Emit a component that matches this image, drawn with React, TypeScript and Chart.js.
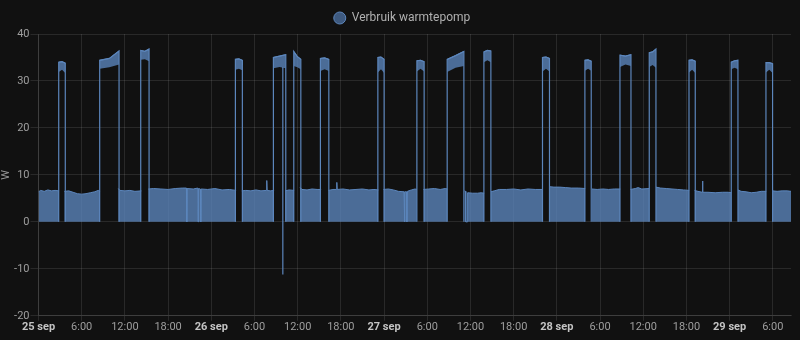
import { useEffect, useRef } from "react";
import { Chart, registerables } from "chart.js";

Chart.register(...registerables);

// ---- data (hours since 25 sep 00:00, watts) ----
const SERIES_LABEL = "Verbruik warmtepomp";
const Y_TITLE = "W";
const DAY_LABELS = ["25 sep", "26 sep", "27 sep", "28 sep", "29 sep"];
const X_MAX_HOURS = 104.53;
const Y_MIN = -20;
const Y_MAX = 40;
const Y_STEP = 10;
const X_STEP = 6;

// base load segments; null = no data (gap)
const lowHours: number[] = [
  0, 0.3, 0.8, 1.3, 1.8, 2.3, 2.85, 3.2,
  3.59, 4.2, 4.8, 5.4, 6.0, 6.6, 7.2, 7.8, 8.3, 8.55, 9.8,
  11.09, 11.3, 12, 12.7, 13.4, 14.29, 14.8,
  15.26, 16, 17, 18, 19, 20, 20.55, 20.6, 20.65, 21.5, 22.12, 22.17, 22.22, 22.49, 22.54, 22.59, 23.5, 24.5, 25.5, 26.5, 27.45, 27.8,
  28.24, 28.8, 29.5, 30.2, 30.9, 31.66, 31.71, 31.76, 32.2, 32.73, 33.5,
  34.26, 34.8, 35.51, 35.9,
  36.34, 36.6, 37.3, 38, 38.7, 39.26, 39.8,
  40.27, 40.9, 41.39, 41.44, 41.49, 42.3, 43.2, 44.1, 45.0, 45.9, 46.6, 47.22, 47.6,
  47.92, 48.6, 49.3, 50.0, 50.78, 50.83, 50.9, 51.12, 51.17, 51.24, 51.8, 52.3, 52.56, 53.0,
  53.47, 54.2, 55, 55.8, 56.5, 56.81, 58,
  59.17, 59.33, 59.36, 59.58, 59.61, 60.3, 61, 61.5, 61.91, 62.4,
  62.84, 63.3, 64, 65, 66, 67, 68, 69, 70.07, 70.5,
  70.94, 71.6, 72.4, 73.2, 74, 75, 75.94, 76.4,
  76.88, 77.6, 78.4, 79.2, 80, 80.82, 81.5,
  82.24, 82.9, 83.3, 83.8, 84.84, 85.3,
  85.77, 86.4, 87.2, 88, 88.8, 89.6, 90.39, 90.8,
  91.13, 91.6, 92.19, 92.24, 92.29, 93, 94, 95, 95.8, 96.27, 96.7,
  97.16, 97.6, 98.3, 99, 99.7, 100.4, 101.09, 101.5,
  101.97, 102.6, 103.3, 104.0, 104.53,
];
const lowWatts: (number | null)[] = [
  6.4, 6.7, 6.5, 6.8, 6.6, 6.7, 6.6, null,
  6.5, 6.6, 6.3, 6.0, 5.9, 6.0, 6.2, 6.4, 6.7, 6.5, null,
  7.1, 6.7, 6.6, 6.7, 6.5, 6.6, null,
  7.0, 7.1, 7.0, 6.9, 7.1, 7.2, 7.2, 0, 7.1, 7.0, 7.2, 0, 7.1, 7.0, 0, 7.0, 6.9, 7.1, 6.8, 6.9, 6.7, null,
  6.6, 6.7, 6.6, 6.8, 6.6, 6.7, 8.8, 6.7, 6.6, 6.7, null,
  6.6, 6.8, 6.7, null,
  7.3, 6.9, 6.8, 7.0, 6.9, 6.9, null,
  6.7, 6.9, 6.9, 8.4, 6.9, 7.0, 6.8, 6.9, 7.0, 6.8, 6.9, 6.8, null,
  6.9, 7.0, 6.8, 6.5, 6.4, 0, 6.4, 6.4, 0, 6.5, 6.8, 7.0, 6.9, null,
  6.9, 7.0, 7.1, 6.9, 7.1, 7.0, null,
  6.6, 6.5, 0, 0, 6.2, 6.1, 6.1, 6.2, 6.1, null,
  6.4, 6.6, 6.9, 6.9, 7.0, 6.8, 7.0, 6.9, 6.9, null,
  7.5, 7.4, 7.4, 7.3, 7.2, 7.2, 7.1, null,
  7.0, 6.9, 7.0, 6.9, 7.0, 7.0, null,
  6.9, 7.1, 7.3, 7.0, 7.1, null,
  7.4, 7.2, 7.1, 7.0, 6.9, 6.8, 6.7, null,
  6.7, 6.5, 6.3, 8.7, 6.3, 6.3, 6.2, 6.3, 6.3, 6.2, null,
  6.8, 6.5, 6.4, 6.2, 6.3, 6.5, 6.5, null,
  6.6, 6.5, 6.6, 6.6, 6.5,
];

// heat pump running periods
const spikeStart = [2.81, 8.5, 14.2, 27.35, 32.63, 35.46, 39.16, 47.14, 52.56, 56.77, 61.87, 70.01, 75.9, 80.77, 84.84, 90.36, 96.23, 101.05];
const spikeEnd = [3.72, 11.19, 15.36, 28.32, 34.35, 36.44, 40.33, 48.01, 53.57, 59.09, 62.84, 70.98, 76.78, 82.3, 85.77, 91.23, 97.16, 101.97];
const capTopStart = [34.0, 34.4, 36.5, 34.6, 35.0, 36.3, 34.8, 35.0, 34.3, 34.6, 36.2, 35.0, 34.4, 35.5, 36.0, 34.4, 34.0, 33.9];
const capTopMid = [34.1, 34.8, 36.3, 34.7, 35.3, 35.2, 34.9, 35.1, 34.4, 35.4, 36.5, 35.1, 34.5, 35.3, 36.2, 34.5, 34.3, 33.9];
const capTopEnd = [33.8, 36.4, 36.8, 34.4, 35.6, 34.6, 34.6, 34.6, 34.1, 36.3, 36.4, 34.8, 34.2, 35.6, 36.8, 34.2, 34.4, 33.7];
const capBottomStart = [31.9, 32.6, 34.5, 32.4, 32.7, 33.2, 32.1, 31.8, 32.0, 31.9, 34.0, 32.0, 32.2, 33.0, 33.0, 31.8, 32.5, 31.8];
const capBottomMid = [32.4, 32.9, 34.6, 32.6, 33.0, 32.9, 32.5, 32.5, 32.6, 32.8, 34.4, 32.6, 32.6, 33.5, 33.4, 32.4, 32.8, 32.4];
const capBottomEnd = [31.7, 33.5, 34.2, 32.3, 32.7, 32.5, 32.1, 31.7, 32.0, 33.2, 34.0, 32.0, 32.2, 33.2, 32.8, 31.7, 32.5, 31.7];

// single negative reading
const dropHour = 33.94;
const dropFrom = 33;
const dropWatts = -11.2;

// ---- styling ----
const BG = "#111111";
const FILL = "rgba(92,135,190,0.78)";
const LINE = "#5c86bc";
const GRID = "rgba(255,255,255,0.1)";
const FONT = "Roboto, 'Noto Sans', sans-serif";

type P = { x: number; y: number | null };

function buildData() {
  const low: P[] = lowHours.map((h, i) => ({ x: h, y: lowWatts[i] }));
  const outline: P[] = [];
  const bottom: P[] = [];
  const top: P[] = [];
  spikeStart.forEach((s, i) => {
    const e = spikeEnd[i];
    const m = (s + e) / 2;
    outline.push({ x: s, y: 0 }, { x: s, y: capTopStart[i] }, { x: m, y: capTopMid[i] }, { x: e, y: capTopEnd[i] }, { x: e, y: 0 }, { x: e + 0.05, y: null });
    bottom.push({ x: s, y: capBottomStart[i] }, { x: m, y: capBottomMid[i] }, { x: e, y: capBottomEnd[i] }, { x: e + 0.05, y: null });
    top.push({ x: s, y: capTopStart[i] }, { x: m, y: capTopMid[i] }, { x: e, y: capTopEnd[i] }, { x: e + 0.05, y: null });
  });
  const drop: P[] = [
    { x: dropHour, y: dropFrom },
    { x: dropHour + 0.001, y: dropWatts },
  ];
  return { low, outline, bottom, top, drop };
}

function tickLabel(v: number): string {
  if (v % 24 === 0) return DAY_LABELS[v / 24] ?? "";
  return `${v % 24}:00`;
}

export default function App() {
  const ref = useRef<HTMLCanvasElement | null>(null);
  useEffect(() => {
    document.body.style.margin = "0";
    document.body.style.background = BG;
    const { low, outline, bottom, top, drop } = buildData();
    const common = { pointRadius: 0, pointHoverRadius: 0, tension: 0, spanGaps: false };
    const chart = new Chart(ref.current as HTMLCanvasElement, {
      type: "line",
      data: {
        datasets: [
          { ...common, label: SERIES_LABEL, data: low as any, fill: "origin", backgroundColor: FILL, borderColor: LINE, borderWidth: 1 },
          { ...common, label: "_outline", data: outline as any, fill: false, borderColor: LINE, borderWidth: 1.2 },
          { ...common, label: "_capBottom", data: bottom as any, fill: false, borderColor: "rgba(0,0,0,0)", borderWidth: 0 },
          { ...common, label: "_capTop", data: top as any, fill: "-1", backgroundColor: FILL, borderColor: LINE, borderWidth: 1 },
          { ...common, label: "_drop", data: drop as any, fill: false, borderColor: LINE, borderWidth: 1.2 },
        ],
      },
      options: {
        animation: false,
        responsive: true,
        maintainAspectRatio: false,
        layout: { padding: { left: 13, right: 9, top: 2, bottom: 6 } },
        plugins: {
          tooltip: { enabled: false },
          legend: {
            position: "top",
            labels: {
              color: "#b0b0b0",
              font: { family: FONT, size: 12 },
              usePointStyle: true,
              boxWidth: 12,
              boxHeight: 8.5,
              padding: 10,
              generateLabels: () => [
                {
                  text: SERIES_LABEL,
                  fillStyle: "#3e5a80",
                  strokeStyle: "#5d86bb",
                  fontColor: "#b0b0b0",
                  lineWidth: 1,
                  pointStyle: "circle",
                  textAlign: "left",
                  hidden: false,
                  datasetIndex: 0,
                } as any,
              ],
            },
          },
        },
        scales: {
          x: {
            type: "linear",
            min: 0,
            max: X_MAX_HOURS,
            grid: { color: GRID, tickLength: 5 },
            border: { color: GRID },
            ticks: {
              stepSize: X_STEP,
              autoSkip: false,
              maxRotation: 0,
              includeBounds: false,
              padding: 0,
              callback: (v: any) => tickLabel(Number(v)),
              color: (ctx: any) => (ctx.tick && ctx.tick.value % 24 === 0 ? "#c4c4c4" : "#9e9e9e"),
              font: (ctx: any) => ({
                family: FONT,
                size: 11,
                weight: ctx.tick && ctx.tick.value % 24 === 0 ? "bold" : "normal",
              }),
            },
          },
          y: {
            min: Y_MIN,
            max: Y_MAX,
            grid: { color: GRID, tickLength: 8 },
            border: { color: GRID },
            title: { display: true, text: Y_TITLE, color: "#9e9e9e", font: { family: FONT, size: 11 }, padding: { top: -13, bottom: 0 } },
            ticks: { stepSize: Y_STEP, color: "#9e9e9e", font: { family: FONT, size: 11 }, padding: 1 },
            afterFit: (scale: any) => {
              scale.width = 25.5;
            },
          },
        },
      },
    });
    return () => chart.destroy();
  }, []);
  return (
    <div style={{ width: 800, height: 340, background: BG, position: "relative" }}>
      <canvas ref={ref} />
    </div>
  );
}
